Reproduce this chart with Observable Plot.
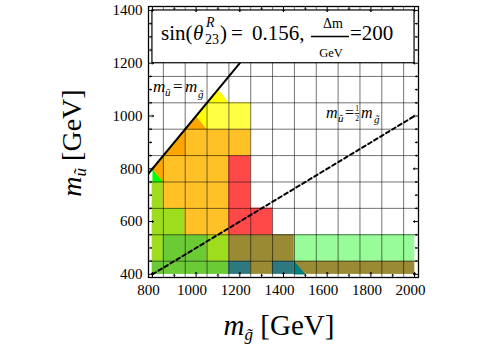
<!DOCTYPE html>
<html>
<head>
<meta charset="utf-8">
<script src="https://cdn.jsdelivr.net/npm/d3@7"></script>
<script src="https://cdn.jsdelivr.net/npm/@observablehq/plot@0.6"></script>
<style>
  html, body { margin: 0; padding: 0; background: #fff; }
  #chart { width: 500px; height: 350px; }
</style>
</head>
<body>
<div id="chart"></div>
<script>
// ---- data ----
const gluinoMasses = [800, 900, 1000, 1100, 1200, 1300, 1400, 1500, 1600, 1700, 1800, 1900, 2000];
const row400  = ["green","green","green","green","teal","olive","teal","olive","olive","olive","olive","olive","olive"];
const row500  = ["lime","green","green","lime","olive","olive","olive","light","light","light","light","light","light"];
const row600  = ["lime","lime","orange","orange","red","red"];
const row700  = ["lime","orange","orange","orange","red"];
const row800  = [null,"orange","orange","orange","red"];
const row900  = [null,null,"orange","orange","orange"];
const row1000 = [null,null,null,"yellow","yellow"];
const squarkRows = [[400,row400],[500,row500],[600,row600],[700,row700],[800,row800],[900,row900],[1000,row1000]];

// interpolated (diagonal) pieces: [category, vertices (m_gluino, m_squark)]
const lime1   = ["lime",   [[800,750],[850,750],[800,800]]];
const orange1 = ["orange", [[800,800],[850,750],[850,850]]];
const orange2 = ["orange", [[850,850],[950,850],[950,950]]];
const orange3 = ["orange", [[950,950],[1050,950],[1000,1000]]];
const yellow1 = ["yellow", [[1000,1000],[1050,950],[1050,1050]]];
const yellow2 = ["yellow", [[1050,1050],[1150,1050],[1100,1100]]];
const teal1   = ["teal",   [[1450,450],[1450,400],[1500,400]]];
const pieces = [lime1, orange1, orange2, orange3, yellow1, yellow2, teal1];

const categoryNames  = ["yellow","orange","red","lime","green","olive","teal","light"];
const categoryColors = ["#ffff44","#ffc125","#ff4848","#9edc1e","#6acb35","#9a8a33","#2e7880","#98fd98"];

const xTicks = [800, 1000, 1200, 1400, 1600, 1800, 2000];
const xMinor = [900, 1100, 1300, 1500, 1700, 1900];
const yTicks = [400, 600, 800, 1000, 1200, 1400];
const yMinor = [450, 500, 550, 650, 700, 750, 850, 900, 950, 1050, 1100, 1150, 1250, 1300, 1350];
const gridX = [850, 950, 1050, 1150, 1250, 1350, 1450, 1550, 1650, 1750, 1850, 1950];
const gridY = [450, 550, 650, 750, 850, 950, 1050, 1150];

const equalLine = [[780, 780], [1200, 1200]];   // m_u = m_g
const halfLine  = [[800, 400], [2000, 1000]];   // m_u = m_g / 2
const titleBox  = [{x1: 800, x2: 2000, y1: 1200, y2: 1400}];
const xDomain = [782, 2018];
const yDomain = [388, 1415];

// ---- build tables ----
const cells = [];
for (const [u, row] of squarkRows) {
  row.forEach((cat, i) => {
    if (!cat) return;
    const g = gluinoMasses[i];
    cells.push({
      cat,
      x1: Math.max(800, g - 50), x2: Math.min(2000, g + 50),
      y1: Math.max(400, u - 50), y2: u + 50
    });
  });
}
const pieceRows = [];
pieces.forEach(([cat, pts], id) => pts.forEach(([g, u]) => pieceRows.push({id, cat, g, u})));

const serif = "Liberation Serif";
const chart = Plot.plot({
  width: 500,
  height: 350,
  marginLeft: 148,
  marginRight: 82,
  marginTop: 6,
  marginBottom: 73,
  style: {fontFamily: serif},
  x: {domain: xDomain, axis: null},
  y: {domain: yDomain, axis: null},
  color: {type: "ordinal", domain: categoryNames, range: categoryColors},
  marks: [
    Plot.rect(cells, {x1: "x1", x2: "x2", y1: "y1", y2: "y2", fill: "cat", stroke: "cat", strokeWidth: 0.4}),
    Plot.line(pieceRows, {x: "g", y: "u", z: "id", fill: "cat", stroke: "cat", strokeWidth: 0.4}),
    Plot.ruleX(gridX, {stroke: "#000", strokeOpacity: 0.55, strokeWidth: 1}),
    Plot.ruleY(gridY, {stroke: "#000", strokeOpacity: 0.55, strokeWidth: 1}),
    Plot.line(halfLine, {x: d => d[0], y: d => d[1], stroke: "#000", strokeWidth: 2, strokeDasharray: "4,3"}),
    Plot.line(equalLine, {x: d => d[0], y: d => d[1], stroke: "#000", strokeWidth: 2, clip: "frame"}),
    Plot.rect(titleBox, {x1: "x1", x2: "x2", y1: "y1", y2: "y2", fill: "#fff", stroke: "#000", strokeWidth: 1.2}),
    Plot.frame({stroke: "#000", strokeWidth: 1.3}),
    // inward frame ticks
    Plot.vector(xTicks, {x: d => d, y: yDomain[0], length: 5, rotate: 0, anchor: "start", stroke: "#000", strokeWidth: 1}),
    Plot.vector(xMinor, {x: d => d, y: yDomain[0], length: 3, rotate: 0, anchor: "start", stroke: "#000", strokeWidth: 1}),
    Plot.vector(xTicks, {x: d => d, y: yDomain[1], length: 5, rotate: 180, anchor: "start", stroke: "#000", strokeWidth: 1}),
    Plot.vector(xMinor, {x: d => d, y: yDomain[1], length: 3, rotate: 180, anchor: "start", stroke: "#000", strokeWidth: 1}),
    Plot.vector(yTicks, {y: d => d, x: xDomain[0], length: 5, rotate: 90, anchor: "start", stroke: "#000", strokeWidth: 1}),
    Plot.vector(yMinor, {y: d => d, x: xDomain[0], length: 3, rotate: 90, anchor: "start", stroke: "#000", strokeWidth: 1}),
    Plot.vector(yTicks, {y: d => d, x: xDomain[1], length: 5, rotate: -90, anchor: "start", stroke: "#000", strokeWidth: 1}),
    Plot.vector(yMinor, {y: d => d, x: xDomain[1], length: 3, rotate: -90, anchor: "start", stroke: "#000", strokeWidth: 1}),
    // tick labels
    Plot.text(xTicks, {x: d => d, y: yDomain[0], text: d => String(d), dy: 13, dx: -4, fontSize: 15, fill: "#000", fontFamily: serif}),
    Plot.text(yTicks, {y: d => d, x: xDomain[0], text: d => String(d), dx: -6, textAnchor: "end", fontSize: 15, fill: "#000", fontFamily: serif})
  ]
});
document.getElementById("chart").appendChild(chart);

// ---- rich text annotations ----
const svg = d3.select(chart);
function piece(g, x, y, str, size, italic, anchor) {
  return g.append("text").attr("x", x).attr("y", y).attr("font-size", size)
    .style("font-family", serif).attr("font-style", italic ? "italic" : "normal")
    .attr("text-anchor", anchor || "start").attr("fill", "#000").text(str);
}
const ann = svg.append("g");
// title box
piece(ann, 161, 40, "sin(", 21);
piece(ann, 193, 40, "θ", 21, true);
piece(ann, 206, 27, "R", 14, true);
piece(ann, 205, 44, "23", 14);
piece(ann, 220, 40, ")", 21);
piece(ann, 231, 40, "=", 21);
piece(ann, 252, 40, "0.156,", 21);
piece(ann, 333, 28, "Δm", 14, false, "middle");
ann.append("line").attr("x1", 311).attr("x2", 349).attr("y1", 36.5).attr("y2", 36.5).attr("stroke", "#000").attr("stroke-width", 1.5);
piece(ann, 331, 57, "GeV", 12.5, false, "middle");
piece(ann, 350, 40, "=200", 21);

// m_u = m_g label
piece(ann, 153, 92, "m", 17, true);
piece(ann, 165, 96, "ũ", 11, true);
piece(ann, 173, 92, "=", 17);
piece(ann, 185, 92, "m", 17, true);
piece(ann, 198, 98, "g̃", 11, true);

// m_u = 1/2 m_g label
piece(ann, 326, 118, "m", 16, true);
piece(ann, 338, 122, "ũ", 11, true);
piece(ann, 345, 118, "=", 16);
piece(ann, 357, 111, "1", 7.5, false, "middle");
ann.append("line").attr("x1", 354.5).attr("x2", 359.5).attr("y1", 113.5).attr("y2", 113.5).attr("stroke", "#000").attr("stroke-width", 0.8);
piece(ann, 357, 121, "2", 7.5, false, "middle");
piece(ann, 361, 118, "m", 16, true);
piece(ann, 374, 123, "g̃", 11, true);

// axis titles
const xt = svg.append("text").attr("x", 279).attr("y", 335).attr("text-anchor", "middle")
  .style("font-family", serif).attr("font-size", 29).attr("fill", "#000");
xt.append("tspan").attr("font-style", "italic").text("m");
xt.append("tspan").attr("font-style", "italic").attr("font-size", 17).attr("dy", 5).text("g̃");
xt.append("tspan").attr("dy", -5).text(" [GeV]");

const yt = svg.append("text").attr("transform", "translate(81,143) rotate(-90)").attr("text-anchor", "middle")
  .style("font-family", serif).attr("font-size", 28).attr("fill", "#000");
yt.append("tspan").attr("font-style", "italic").text("m");
yt.append("tspan").attr("font-style", "italic").attr("font-size", 17).attr("dy", 5).text("ũ");
yt.append("tspan").attr("dy", -5).text(" [GeV]");

// make sure every text uses the serif face
svg.selectAll("text").style("font-family", serif);
</script>
</body>
</html>
